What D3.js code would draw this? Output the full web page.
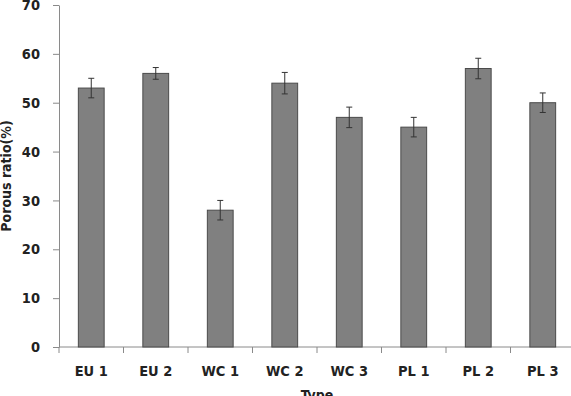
<!DOCTYPE html>
<html>
<head>
<meta charset="utf-8">
<script src="https://cdn.jsdelivr.net/npm/d3@7"></script>
<style>
  body { margin: 0; background: #fff; }
  svg { display: block; }
  .axis path, .axis line { stroke: #8a8a8a; }
  text { font-family: "DejaVu Sans Condensed", "DejaVu Sans", sans-serif; font-weight: bold; fill: #222; }
</style>
</head>
<body>
<div id="chart"></div>
<script>
// data
var types = ["EU 1", "EU 2", "WC 1", "WC 2", "WC 3", "PL 1", "PL 2", "PL 3"];
var porous = [53, 56, 28, 54, 47, 45, 57, 50];
var errors = [2, 1.2, 2, 2.2, 2.1, 2, 2.1, 2];
var yTicks = [0, 10, 20, 30, 40, 50, 60, 70];

var W = 571, H = 396,
    margin = {top: 5, left: 59, bottom: 49},
    plotRight = 575,
    barFill = "#808080",
    barStroke = "#4a4a4a",
    errColor = "#333";

var svg = d3.select("#chart").append("svg")
    .attr("width", W)
    .attr("height", H);

var x = d3.scaleBand()
    .domain(types)
    .range([margin.left, plotRight])
    .paddingInner(0.6)
    .paddingOuter(0.3);

var y = d3.scaleLinear()
    .domain([0, 70])
    .range([H - margin.bottom, margin.top]);

// y axis
var yAxis = d3.axisLeft(y).tickValues(yTicks).tickSize(6).tickSizeOuter(0).tickPadding(13);
var gy = svg.append("g")
    .attr("class", "axis")
    .attr("transform", "translate(" + margin.left + ",0)")
    .call(yAxis);
gy.selectAll("text").style("font-size", "14.5px");

// x axis: baseline, boundary ticks, labels
var gx = svg.append("g").attr("class", "axis");
gx.append("line")
    .attr("x1", margin.left).attr("x2", plotRight)
    .attr("y1", y(0)).attr("y2", y(0));

var step = x.step();
var bounds = types.map(function(d) { return x(d) - x.paddingInner() * step / 2; });
gx.selectAll(".xtick")
    .data(bounds)
    .enter().append("line")
    .attr("class", "xtick")
    .attr("x1", function(d) { return d; })
    .attr("x2", function(d) { return d; })
    .attr("y1", y(0))
    .attr("y2", y(0) + 6);

svg.selectAll(".xlabel")
    .data(types)
    .enter().append("text")
    .attr("class", "xlabel")
    .attr("x", function(d) { return x(d) + x.bandwidth() / 2; })
    .attr("y", y(0) + 29)
    .attr("text-anchor", "middle")
    .style("font-size", "14.5px")
    .text(function(d) { return d; });

// bars
svg.selectAll(".bar")
    .data(porous)
    .enter().append("rect")
    .attr("class", "bar")
    .attr("x", function(d, i) { return x(types[i]); })
    .attr("y", function(d) { return y(d); })
    .attr("width", x.bandwidth())
    .attr("height", function(d) { return y(0) - y(d); })
    .style("fill", barFill)
    .style("stroke", barStroke)
    .style("stroke-width", 1);

// error bars
var eb = svg.selectAll(".err")
    .data(porous)
    .enter().append("g")
    .attr("class", "err")
    .style("stroke", errColor)
    .style("stroke-width", 1);

eb.append("line")
    .attr("x1", function(d, i) { return x(types[i]) + x.bandwidth() / 2; })
    .attr("x2", function(d, i) { return x(types[i]) + x.bandwidth() / 2; })
    .attr("y1", function(d, i) { return y(d - errors[i]); })
    .attr("y2", function(d, i) { return y(d + errors[i]); });

[1, -1].forEach(function(s) {
    eb.append("line")
        .attr("x1", function(d, i) { return x(types[i]) + x.bandwidth() / 2 - 3; })
        .attr("x2", function(d, i) { return x(types[i]) + x.bandwidth() / 2 + 3; })
        .attr("y1", function(d, i) { return y(d + s * errors[i]); })
        .attr("y2", function(d, i) { return y(d + s * errors[i]); });
});

// axis titles
svg.append("text")
    .attr("transform", "translate(11," + (margin.top + (y(0) - margin.top) / 2) + ") rotate(-90)")
    .attr("text-anchor", "middle")
    .style("font-size", "14px")
    .text("Porous ratio(%)");

svg.append("text")
    .attr("x", (margin.left + plotRight) / 2)
    .attr("y", H + 4)
    .attr("text-anchor", "middle")
    .style("font-size", "14px")
    .text("Type");
</script>
</body>
</html>
